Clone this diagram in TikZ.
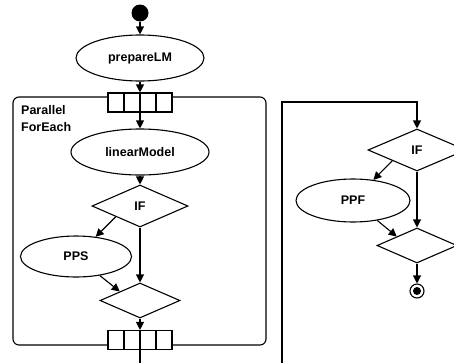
\documentclass[tikz,border=0pt]{standalone}
\usepackage{fontspec}
\setmainfont{Liberation Sans}
\usetikzlibrary{shapes.geometric,arrows.meta}

\tikzset{
    action/.style={draw, ellipse, line width=1.1pt, inner sep=0pt, font=\fontsize{12.5}{15}\selectfont\bfseries},
    decision/.style={draw, diamond, line width=1.1pt, inner sep=0pt, font=\fontsize{12.5}{15}\selectfont\bfseries},
    pinbox/.style={draw, line width=1.1pt, fill=white, minimum width=64pt, minimum height=19pt, inner sep=0pt},
    flow/.style={line width=1.1pt, -{Triangle[length=8pt,width=8pt]}},
}

\begin{document}
\begin{tikzpicture}[x=1pt, y=-1pt]
        \useasboundingbox (0,0) rectangle (454,362);
        \clip (0,0) rectangle (454,362);

        % Expansion region
        \draw[line width=1.1pt, rounded corners=6pt] (13,97) rectangle (266,345);
        \node[anchor=north west, align=left, inner sep=0pt, font=\fontsize{12.5}{17}\selectfont\bfseries] (regionlabel) at (21,105) {Parallel\\ForEach};

        % Left column
        \node[circle, fill, minimum size=17pt, inner sep=0pt] (start) at (140,13) {};
        \node[action, minimum width=128pt, minimum height=46pt] (prepare) at (140,58) {prepareLM};
        \node[pinbox] (inpin) at (140,102.5) {};
        \node[action, minimum width=138pt, minimum height=46pt] (linear) at (140,152) {linearModel};
        \node[decision, minimum width=96pt, minimum height=42pt] (if1) at (140,206) {IF};
        \node[action, minimum width=111pt, minimum height=41pt] (pps) at (76,256.5) {PPS};
        \node[decision, minimum width=80pt, minimum height=35pt] (merge1) at (140,300.5) {};
        \node[pinbox] (outpin) at (140,340) {};
        \foreach \d in {-16,0,16} {
            \draw[line width=1.1pt] ([xshift=\d pt]inpin.north) -- ([xshift=\d pt]inpin.south);
            \draw[line width=1.1pt] ([xshift=\d pt]outpin.north) -- ([xshift=\d pt]outpin.south);
        }

        % Right column
        \node[decision, minimum width=98pt, minimum height=42pt] (if2) at (417,150) {IF};
        \node[action, minimum width=114pt, minimum height=43pt] (ppf) at (353,200.5) {PPF};
        \node[decision, minimum width=80pt, minimum height=35pt] (merge2) at (417,245.5) {};
        \node[circle, draw, line width=1.1pt, minimum size=14pt, inner sep=0pt] (final) at (417,291) {};
        \fill (final) circle (4);

        % Flow edges
        \coordinate (cutL) at (140,366);
        \coordinate (cutR) at (282,366);
        \coordinate (turn) at (417,102);
        \draw[flow] (start) -- (prepare);
        \draw[flow] (prepare) -- (inpin);
        \draw[flow] (inpin) -- (linear);
        \draw[flow] (linear) -- (if1);
        \draw[flow] (if1.south west) -- (pps);
        \draw[flow] (if1) -- (merge1);
        \draw[flow] (pps) -- (merge1.north west);
        \draw[flow] (merge1) -- (outpin);
        \draw[line width=1.1pt] (outpin) -- (cutL);
        \draw[flow] (cutR) |- (turn) -- (if2);
        \draw[flow] (if2.south west) -- (ppf);
        \draw[flow] (if2) -- (merge2);
        \draw[flow] (ppf) -- (merge2.north west);
        \draw[flow] (merge2) -- (final);
\end{tikzpicture}
\end{document}
